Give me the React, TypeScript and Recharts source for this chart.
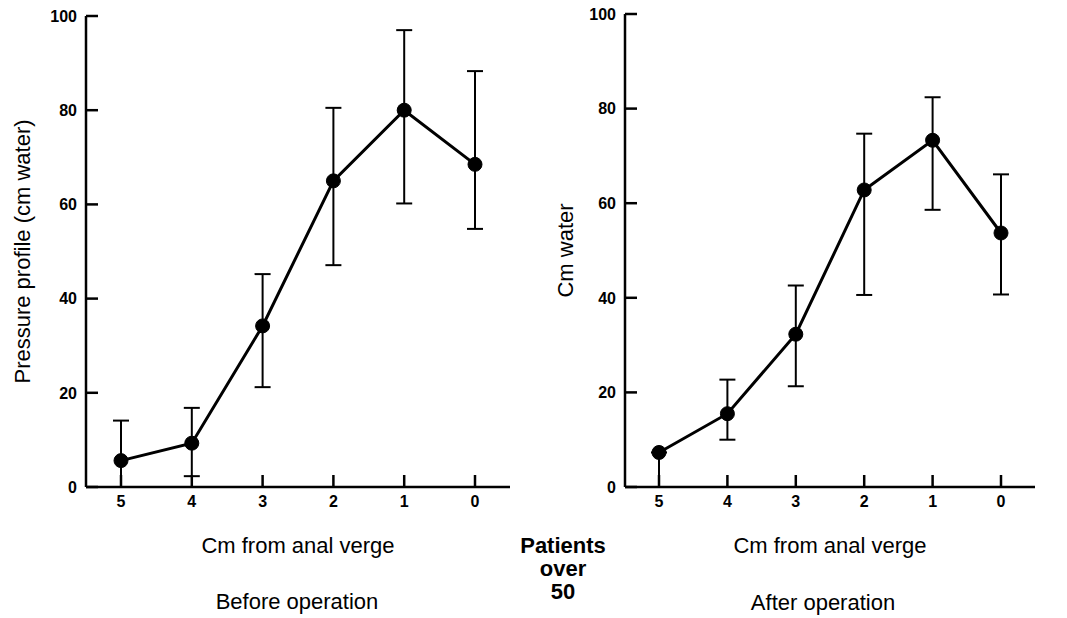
import { LineChart, Line, XAxis, YAxis, ErrorBar } from "recharts";

const positions = ["5", "4", "3", "2", "1", "0"];
const yTicks = [0, 20, 40, 60, 80, 100];

// before operation: mean, lower and upper ends of the bars
const beforeMean = [5.6, 9.3, 34.2, 65.0, 80.0, 68.5];
const beforeLow = [0, 2.3, 21.2, 47.1, 60.2, 54.8];
const beforeHigh = [14.1, 16.8, 45.2, 80.5, 97.0, 88.3];

// after operation
const afterMean = [7.3, 15.5, 32.3, 62.8, 73.3, 53.7];
const afterLow = [0, 10.0, 21.3, 40.6, 58.6, 40.7];
const afterHigh = [7.3, 22.7, 42.6, 74.7, 82.4, 66.1];

const font = "'Liberation Sans', Arial, sans-serif";

function rows(mean: number[], low: number[], high: number[]) {
  return positions.map((p, i) => ({
    cm: p,
    value: mean[i],
    err: [mean[i] - low[i], high[i] - mean[i]],
  }));
}

const axisLine = { stroke: "#000", strokeWidth: 2.5 };

function XTick(props: any) {
  return (
    <text
      x={props.x}
      y={props.y}
      dy="0.71em"
      textAnchor="middle"
      fill="#000"
      fontFamily={font}
      fontWeight="bold"
      fontSize={16}
    >
      {props.payload.value}
    </text>
  );
}

function YTick(props: any) {
  return (
    <text
      x={props.x}
      y={props.y}
      dy="0.36em"
      textAnchor="end"
      fill="#000"
      fontFamily={font}
      fontWeight="bold"
      fontSize={16}
    >
      {props.payload.value}
    </text>
  );
}

type PanelProps = {
  data: ReturnType<typeof rows>;
  width: number;
  yWidth: number;
  top: number;
  right: number;
  pad: number;
  yLabel: string;
  yLabelOffset: number;
};

function Panel({ data, width, yWidth, top, right, pad, yLabel, yLabelOffset }: PanelProps) {
  const xAxisHeight = 70;
  const bottom = 618 - 487 - xAxisHeight;
  return (
    <LineChart
      width={width}
      height={618}
      data={data}
      margin={{ top, right, bottom, left: 0 }}
    >
      <XAxis
        dataKey="cm"
        height={xAxisHeight}
        padding={{ left: pad, right: pad }}
        axisLine={axisLine}
        tickLine={axisLine}
        tickSize={-12}
        tickMargin={21}
        tick={<XTick />}
        interval={0}
        label={{
          value: "Cm from anal verge",
          position: "insideBottom",
          offset: 4,
          style: { fontSize: 22, fill: "#000", fontFamily: font },
        }}
      />
      <YAxis
        width={yWidth}
        domain={[0, 100]}
        ticks={yTicks}
        axisLine={axisLine}
        tickLine={axisLine}
        tickSize={-12}
        tickMargin={21}
        tick={<YTick />}
        label={{
          value: yLabel,
          angle: -90,
          position: "insideLeft",
          offset: yLabelOffset,
          textAnchor: "middle",
          style: { fontSize: 22, fill: "#000", fontFamily: font, textAnchor: "middle" },
        }}
      />
      <Line
        dataKey="value"
        stroke="#000"
        strokeWidth={3}
        dot={{ r: 7, fill: "#000", stroke: "#000", strokeWidth: 1 }}
        activeDot={false}
        isAnimationActive={false}
      >
        <ErrorBar dataKey="err" width={8} stroke="#000" strokeWidth={2} direction="y" />
      </Line>
    </LineChart>
  );
}

const caption = {
  position: "absolute" as const,
  fontFamily: font,
  fontSize: 22,
  color: "#000",
  textAlign: "center" as const,
  lineHeight: "23px",
  whiteSpace: "nowrap" as const,
};

export default function App() {
  return (
    <div
      style={{
        position: "absolute",
        left: 0,
        top: 0,
        width: 1067,
        height: 618,
        background: "#fff",
        overflow: "hidden",
      }}
    >
      <div style={{ position: "absolute", left: 0, top: 0 }}>
        <Panel
          data={rows(beforeMean, beforeLow, beforeHigh)}
          width={520}
          yWidth={86}
          top={16}
          right={10}
          pad={35}
          yLabel="Pressure profile (cm water)"
          yLabelOffset={22}
        />
      </div>
      <div style={{ position: "absolute", left: 520, top: 0 }}>
        <Panel
          data={rows(afterMean, afterLow, afterHigh)}
          width={527}
          yWidth={105}
          top={14}
          right={12}
          pad={34}
          yLabel="Cm water"
          yLabelOffset={45}
        />
      </div>
      <div style={{ ...caption, left: 197, width: 200, top: 590 }}>Before operation</div>
      <div style={{ ...caption, left: 723, width: 200, top: 591 }}>After operation</div>
      <div style={{ ...caption, left: 513, width: 100, top: 534, fontWeight: "bold" }}>
        Patients
        <br />
        over
        <br />
        50
      </div>
    </div>
  );
}
